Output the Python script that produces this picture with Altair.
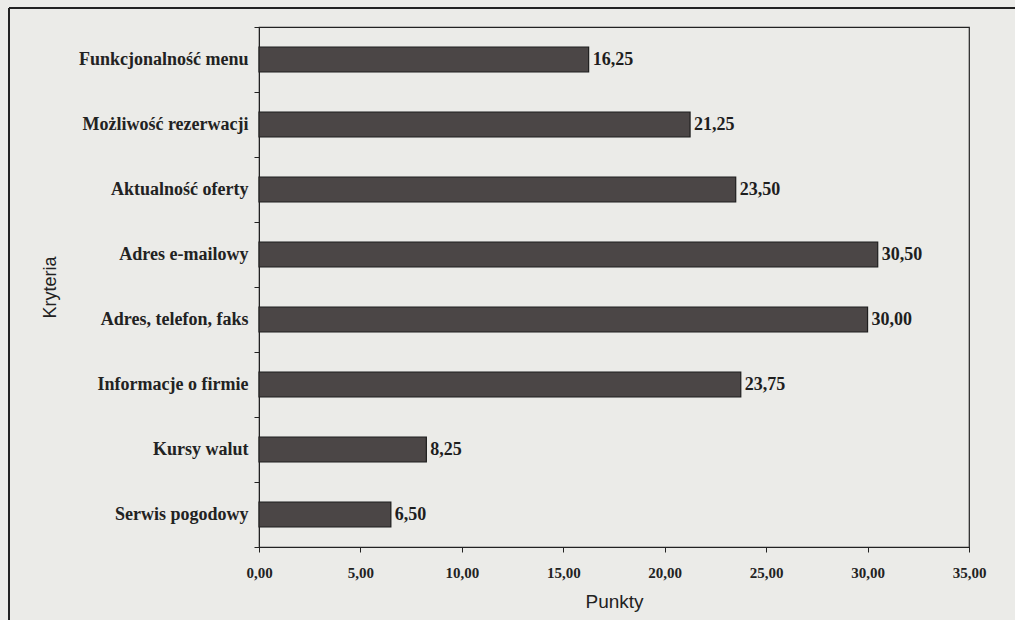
import altair as alt
import pandas as pd

categories = ["Funkcjonalność menu", "Możliwość rezerwacji", "Aktualność oferty",
              "Adres e-mailowy", "Adres, telefon, faks", "Informacje o firmie",
              "Kursy walut", "Serwis pogodowy"]
values = [16.25, 21.25, 23.50, 30.50, 30.00, 23.75, 8.25, 6.50]
x_ticks = [0, 5, 10, 15, 20, 25, 30, 35]

df = pd.DataFrame({"kryterium": categories, "punkty": values})

SERIF = "Liberation Serif"
SANS = "Liberation Sans"

x_enc = alt.X("punkty:Q",
              scale=alt.Scale(domain=[0, 35], nice=False),
              axis=alt.Axis(values=x_ticks, title="Punkty",
                            labelExpr="replace(format(datum.value, '.2f'), '.', ',')",
                            labelFlush=False,
                            labelFont=SERIF, labelFontWeight="bold", labelFontSize=15,
                            labelColor="#222", labelPadding=13,
                            titleFont=SANS, titleFontSize=19, titleFontWeight="normal",
                            titleColor="#222", titlePadding=12,
                            domainColor="#222", tickColor="#222", tickSize=5,
                            grid=False))
y_enc = alt.Y("kryterium:N", sort=categories,
              scale=alt.Scale(paddingInner=0, paddingOuter=0),
              axis=alt.Axis(title="Kryteria", tickBand="extent",
                            labelFont=SERIF, labelFontWeight="bold", labelFontSize=18,
                            labelColor="#222", labelPadding=6,
                            titleFont=SANS, titleFontSize=18, titleFontWeight="normal",
                            titleColor="#222", titleX=-209, titleY=260,
                            titleAlign="center", titleBaseline="middle",
                            domainColor="#222", tickColor="#222", tickSize=5,
                            grid=False))

base = alt.Chart(df)

bars = base.mark_bar(color="#4b4646", stroke="#1e1e1e", strokeWidth=1.2, size=25).encode(
    x=x_enc, y=y_enc)

labels = base.transform_calculate(
    lab="replace(format(datum.punkty, '.2f'), '.', ',')"
).mark_text(align="left", baseline="middle", dx=4, font=SERIF, fontWeight="bold",
            fontSize=18, color="#1e1e1e").encode(
    x="punkty:Q", y=alt.Y("kryterium:N", sort=categories), text="lab:N")

frame_top = base.mark_rule(color="#222", strokeWidth=2, clip=False).encode(
    x=alt.value(-250), x2=alt.value(760), y=alt.value(-19))
frame_left = base.mark_rule(color="#222", strokeWidth=2, clip=False).encode(
    x=alt.value(-250), y=alt.value(-19), y2=alt.value(600))

chart = alt.layer(bars, labels, frame_top, frame_left).properties(
    width=710, height=520,
    autosize=alt.AutoSizeParams(type="none"),
    padding={"left": 259, "top": 27, "right": 46, "bottom": 73},
    background="#ebebe8",
).configure_view(stroke="#222", strokeWidth=1.2)

chart.save("out.html", embed_options={"renderer": "svg", "actions": False})
